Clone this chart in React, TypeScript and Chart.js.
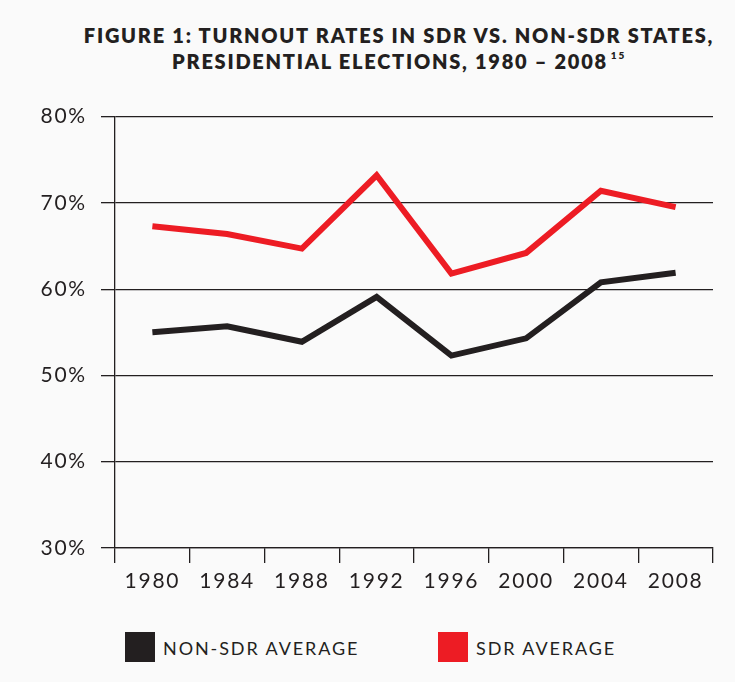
import React, { useEffect, useRef } from "react";
import { Chart, registerables } from "chart.js";

Chart.register(...registerables);

const years = ["1980", "1984", "1988", "1992", "1996", "2000", "2004", "2008"];
const nonSdrAverage = [55.0, 55.7, 53.9, 59.1, 52.3, 54.3, 60.8, 61.9];
const sdrAverage = [67.3, 66.4, 64.7, 73.2, 61.8, 64.2, 71.4, 69.5];
const titleLine1 = "FIGURE 1: TURNOUT RATES IN SDR VS. NON-SDR STATES,";
const titleLine2 = "PRESIDENTIAL ELECTIONS, 1980 \u2013 2008";
const titleNote = "15";
const legendLabels = ["NON-SDR AVERAGE", "SDR AVERAGE"];

const BLACK = "#231f20";
const RED = "#ed1c24";
const FONT = "Lato, 'Open Sans', sans-serif";

const spacingPlugin = {
  id: "tickSpacing",
  beforeInit(chart: any) {
    chart.ctx.letterSpacing = "1.8px";
  },
  beforeLayout(chart: any) {
    chart.ctx.letterSpacing = "1.8px";
  },
  beforeDraw(chart: any) {
    chart.ctx.letterSpacing = "1.8px";
  },
};

export default function App() {
  const ref = useRef<HTMLCanvasElement | null>(null);

  useEffect(() => {
    document.body.style.background = "#fafafa";
    const canvas = ref.current;
    if (!canvas) return;
    const chart = new Chart(canvas, {
      type: "line",
      data: {
        labels: years,
        datasets: [
          {
            label: legendLabels[0],
            data: nonSdrAverage,
            borderColor: BLACK,
            backgroundColor: BLACK,
            borderWidth: 6,
            pointRadius: 0,
            tension: 0,
            borderCapStyle: "butt",
            borderJoinStyle: "miter",
          },
          {
            label: legendLabels[1],
            data: sdrAverage,
            borderColor: RED,
            backgroundColor: RED,
            borderWidth: 6,
            pointRadius: 0,
            tension: 0,
            borderCapStyle: "butt",
            borderJoinStyle: "miter",
          },
        ],
      },
      plugins: [spacingPlugin],
      options: {
        animation: false,
        responsive: true,
        maintainAspectRatio: false,
        layout: { padding: { top: 23, right: 14, left: 0, bottom: 0 } },
        plugins: {
          legend: { display: false },
          title: { display: false },
          tooltip: { enabled: false },
        },
        scales: {
          x: {
            type: "category",
            offset: true,
            grid: {
              offset: true,
              drawOnChartArea: false,
              drawTicks: true,
              tickLength: 15,
              color: BLACK,
              lineWidth: 1.3,
            },
            border: { display: true, color: BLACK, width: 1.3 },
            ticks: {
              color: BLACK,
              font: { family: FONT, size: 21 },
              padding: 6,
              maxRotation: 0,
            },
            afterFit: (s: any) => {
              s.height = 62;
            },
          },
          y: {
            min: 30,
            max: 80,
            grid: {
              color: BLACK,
              lineWidth: 1.3,
              drawTicks: true,
              tickLength: 14,
            },
            border: { display: true, color: BLACK, width: 1.3 },
            ticks: {
              stepSize: 10,
              color: BLACK,
              font: { family: FONT, size: 21 },
              padding: 14,
              callback: (v: any) => v + "%",
            },
            afterFit: (s: any) => {
              s.width = 107;
            },
          },
        },
      },
    });
    return () => chart.destroy();
  }, []);

  const legendItem = (color: string, text: string, left: number) => (
    <div
      style={{
        position: "absolute",
        left,
        top: 0,
        display: "flex",
        alignItems: "center",
        height: 30,
      }}
    >
      <div style={{ width: 30, height: 30, background: color }} />
      <span
        style={{
          marginLeft: 8,
          fontFamily: FONT,
          fontSize: 18,
          letterSpacing: 1.9,
          color: BLACK,
          lineHeight: "30px",
          paddingTop: 2,
        }}
      >
        {text}
      </span>
    </div>
  );

  return (
    <div
      style={{
        position: "relative",
        width: 719,
        height: 666,
        background: "#fafafa",
        overflow: "hidden",
      }}
    >
      <div
        style={{
          position: "absolute",
          left: 41,
          top: 14,
          width: 700,
          textAlign: "center",
          fontFamily: FONT,
          fontWeight: 800,
          fontSize: 20,
          lineHeight: "26px",
          letterSpacing: 1.75,
          color: BLACK,
        }}
      >
        <div style={{ whiteSpace: "nowrap" }}>{titleLine1}</div>
        <div style={{ whiteSpace: "nowrap" }}>
          {titleLine2}
          <sup style={{ fontSize: 10, verticalAlign: "top", lineHeight: "14px", marginLeft: 3 }}>{titleNote}</sup>
        </div>
      </div>
      <div style={{ position: "absolute", left: 0, top: 82, width: 719, height: 520 }}>
        <canvas ref={ref} />
      </div>
      <div style={{ position: "absolute", left: 0, top: 624, width: 719, height: 30 }}>
        {legendItem(BLACK, legendLabels[0], 117)}
        {legendItem(RED, legendLabels[1], 430)}
      </div>
    </div>
  );
}
